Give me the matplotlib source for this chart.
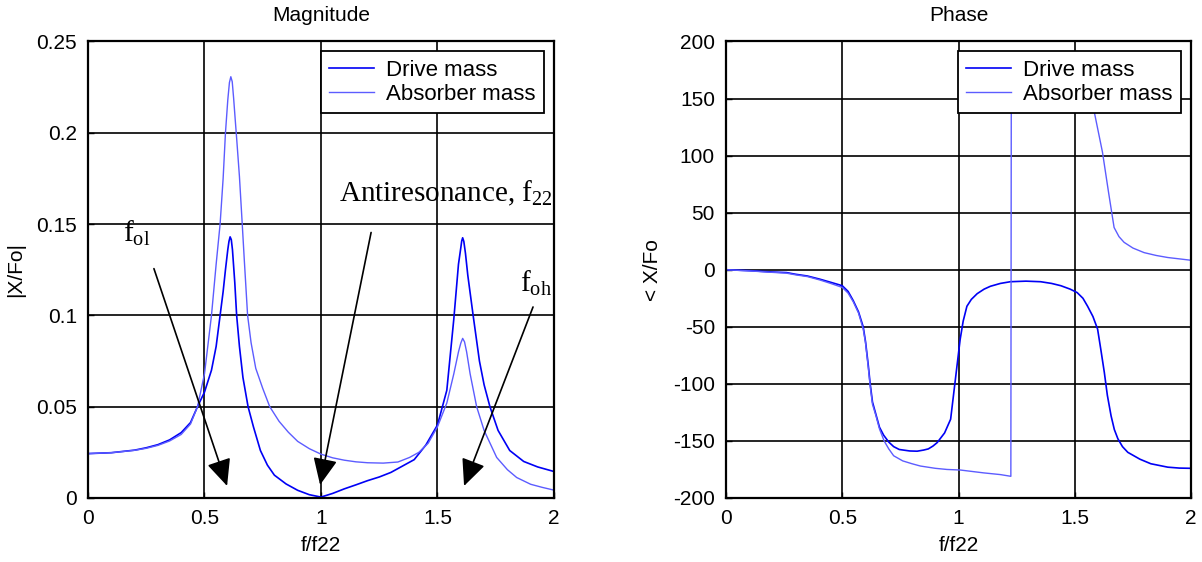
import matplotlib
matplotlib.use('Agg')
import matplotlib.pyplot as plt

plt.rcParams['font.family'] = ['Liberation Sans', 'DejaVu Sans']
plt.rcParams['axes.unicode_minus'] = False

# magnitude, drive mass
f_drive_mag = [0, 0.1, 0.2, 0.25, 0.3, 0.35, 0.4, 0.44, 0.47, 0.5, 0.53, 0.55, 0.567, 0.58,
               0.59, 0.6, 0.605, 0.61, 0.615, 0.62, 0.63, 0.638, 0.65, 0.665, 0.687, 0.71,
               0.74, 0.77, 0.8, 0.85, 0.9, 0.95, 1.0, 1.05, 1.1, 1.15, 1.2, 1.25, 1.3, 1.35,
               1.4, 1.45, 1.5, 1.54, 1.57, 1.59, 1.6, 1.604, 1.608, 1.613, 1.62, 1.63, 1.654,
               1.68, 1.7, 1.725, 1.76, 1.81, 1.87, 1.93, 2.0]
drive_mag = [0.0243, 0.0248, 0.0262, 0.0275, 0.0292, 0.0318, 0.0358, 0.0413, 0.050, 0.058,
             0.070, 0.083, 0.100, 0.113, 0.125, 0.136, 0.1405, 0.143, 0.1415, 0.136, 0.118,
             0.100, 0.083, 0.066, 0.050, 0.039, 0.026, 0.018, 0.0125, 0.0077, 0.0042,
             0.0018, 0.0005, 0.0025, 0.005, 0.0072, 0.0095, 0.0115, 0.014, 0.0175, 0.021,
             0.029, 0.040, 0.059, 0.098, 0.128, 0.137, 0.1408, 0.1425, 0.1405, 0.134,
             0.122, 0.099, 0.075, 0.062, 0.050, 0.037, 0.026, 0.020, 0.017, 0.0145]

# magnitude, absorber mass
f_abs_mag = [0, 0.1, 0.2, 0.25, 0.3, 0.35, 0.4, 0.44, 0.47, 0.5, 0.53, 0.55, 0.567, 0.58,
             0.59, 0.6, 0.607, 0.613, 0.619, 0.625, 0.632, 0.638, 0.65, 0.662, 0.671, 0.685,
             0.7, 0.72, 0.75, 0.78, 0.82, 0.86, 0.9, 0.95, 1.0, 1.05, 1.1, 1.15, 1.2,
             1.267, 1.33, 1.38, 1.42, 1.46, 1.5, 1.54, 1.57, 1.59, 1.6, 1.608, 1.616, 1.625,
             1.64, 1.668, 1.7, 1.754, 1.8, 1.84, 1.9, 1.95, 2.0]
abs_mag = [0.0243, 0.0248, 0.0261, 0.0272, 0.0288, 0.0312, 0.0348, 0.0405, 0.050, 0.068,
           0.100, 0.128, 0.150, 0.175, 0.200, 0.218, 0.2275, 0.2307, 0.228, 0.219, 0.207,
           0.197, 0.176, 0.150, 0.130, 0.100, 0.085, 0.071, 0.060, 0.050, 0.042, 0.036,
           0.031, 0.027, 0.024, 0.022, 0.0207, 0.0198, 0.0193, 0.0191, 0.0197, 0.0222,
           0.025, 0.030, 0.039, 0.052, 0.068, 0.080, 0.0848, 0.0874, 0.0855, 0.080, 0.068,
           0.050, 0.037, 0.0222, 0.0155, 0.0112, 0.0075, 0.0058, 0.0043]

# phase, drive mass (deg)
f_drive_ph = [0, 0.1, 0.2, 0.26, 0.3, 0.35, 0.404, 0.45, 0.5, 0.525, 0.547, 0.57, 0.59, 0.6,
              0.612, 0.62, 0.63, 0.645, 0.66, 0.678, 0.7, 0.721, 0.745, 0.79, 0.822, 0.85,
              0.87, 0.89, 0.908, 0.94, 0.966, 0.99, 1.007, 1.02, 1.036, 1.055, 1.08, 1.11,
              1.137, 1.18, 1.223, 1.29, 1.353, 1.4, 1.44, 1.48, 1.51, 1.535, 1.555, 1.578,
              1.598, 1.612, 1.627, 1.64, 1.656, 1.67, 1.685, 1.705, 1.728, 1.78, 1.827, 1.9,
              1.95, 2.0]
drive_ph = [0, -0.8, -2, -2.5, -4, -5.5, -8.3, -11, -14, -19, -27, -37, -50, -63, -84,
            -100, -116, -127, -138, -145, -151, -155, -157.5, -158.8, -159, -158, -157,
            -154.5, -151.5, -143, -131, -90, -61, -45, -32, -26, -21, -17, -14.5, -12,
            -10.5, -10, -10.5, -12, -14, -17, -20, -25, -32, -41, -52, -70, -90, -110,
            -128, -140, -148, -155, -160, -166, -170, -173, -173.8, -174]

# phase, absorber mass (deg)
f_abs_ph = [0, 0.1, 0.2, 0.26, 0.3, 0.35, 0.404, 0.45, 0.5, 0.525, 0.547, 0.57, 0.59, 0.6,
            0.612, 0.62, 0.63, 0.645, 0.66, 0.68, 0.7, 0.721, 0.76, 0.8, 0.836, 0.9, 0.95,
            1.008, 1.108, 1.18, 1.225, 1.227, 1.3, 1.4, 1.5, 1.55, 1.583, 1.6, 1.619,
            1.645, 1.669, 1.69, 1.712, 1.75, 1.798, 1.85, 1.9, 1.95, 2.0]
abs_ph = [0, -1, -2.3, -3, -4.5, -6, -9, -12, -15.5, -20.5, -28, -38, -52, -64, -86, -102,
          -118, -128, -139.5, -150, -157, -163, -167.5, -170, -172, -174, -175, -175.5,
          -178, -179.5, -181, 180, 179, 176, 168, 155, 139, 122, 103, 68, 37, 29, 24, 19,
          15, 12.5, 10.7, 9.5, 8.3]

mag_ticks = [0, 0.05, 0.1, 0.15, 0.2, 0.25]
mag_labels = ['0', '0.05', '0.1', '0.15', '0.2', '0.25']
ph_ticks = [-200, -150, -100, -50, 0, 50, 100, 150, 200]
f_ticks = [0, 0.5, 1, 1.5, 2]
f_labels = ['0', '0.5', '1', '1.5', '2']

drive_color = '#0000f5'
abs_color = '#5c5cff'

fig = plt.figure(figsize=(12.02, 5.62), dpi=100)
ax1 = fig.add_axes([0.0732, 0.1139, 0.3877, 0.8123])
ax2 = fig.add_axes([0.604, 0.1139, 0.3869, 0.8123])


def style(ax):
    ax.set_xlim(0, 2)
    ax.set_xticks(f_ticks)
    ax.set_xticklabels(f_labels)
    ax.grid(True, color='black', linewidth=1.2, linestyle='-')
    ax.set_axisbelow(True)
    ax.tick_params(direction='in', length=4, width=1, labelsize=15, pad=8, color='black')
    for s in ax.spines.values():
        s.set_linewidth(1.6)
    ax.set_xlabel('f/f22', fontsize=15, labelpad=6)
    leg = ax.legend(loc='upper right', fontsize=16, fancybox=False, framealpha=1,
                    edgecolor='black', borderpad=0.38, labelspacing=0.12,
                    handlelength=2.0, handletextpad=0.55, borderaxespad=0.45)
    leg.get_frame().set_linewidth(1.3)
    leg.set_zorder(5)


ax1.plot(f_drive_mag, drive_mag, color=drive_color, lw=1.2, label='Drive mass')
ax1.plot(f_abs_mag, abs_mag, color=abs_color, lw=1.0, label='Absorber mass')
ax1.set_ylim(0, 0.25)
ax1.set_yticks(mag_ticks)
ax1.set_yticklabels(mag_labels)
ax1.set_ylabel('|X/Fo|', fontsize=15, labelpad=8)
ax1.set_title('Magnitude', fontsize=15, pad=15)
style(ax1)

# annotations on the magnitude plot
arrow_kw = dict(arrowstyle='-|>,head_length=0.55,head_width=0.25', color='black',
                lw=1.2, mutation_scale=30, shrinkA=0, shrinkB=0)
ax1.annotate('', xy=(0.597, 0.0066), xytext=(0.283, 0.1256), arrowprops=arrow_kw)
ax1.annotate('', xy=(0.996, 0.0072), xytext=(1.215, 0.1454), arrowprops=arrow_kw)
ax1.annotate('', xy=(1.614, 0.0066), xytext=(1.910, 0.1046), arrowprops=arrow_kw)
serif = dict(family='Liberation Serif', fontsize=21, color='black')
ax1.text(0.15, 0.1407, r'f$_{\mathregular{ol}}$', **serif)
ax1.text(1.077, 0.1623, r'Antiresonance, f$_{\mathregular{22}}$', **serif)
ax1.text(1.854, 0.113, r'f$_{\mathregular{oh}}$', **serif)

ax2.plot(f_drive_ph, drive_ph, color=drive_color, lw=1.2, label='Drive mass')
ax2.plot(f_abs_ph, abs_ph, color=abs_color, lw=1.0, label='Absorber mass')
ax2.set_ylim(-200, 200)
ax2.set_yticks(ph_ticks)
ax2.set_ylabel('< X/Fo', fontsize=15, labelpad=8)
ax2.set_title('Phase', fontsize=15, pad=15)
style(ax2)

fig.savefig('out.png', dpi=100)
